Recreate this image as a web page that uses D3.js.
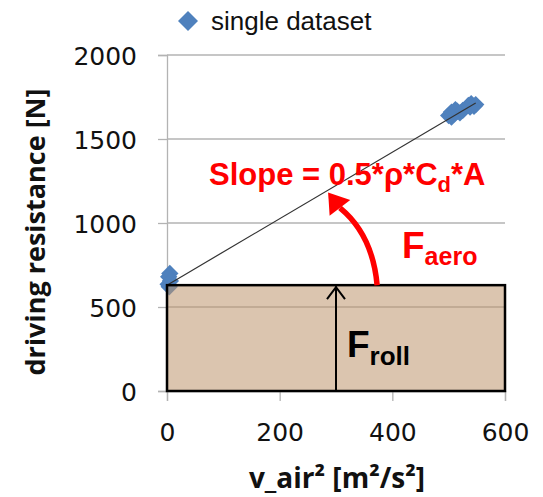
<!DOCTYPE html>
<html>
<head>
<meta charset="utf-8">
<script src="https://cdn.jsdelivr.net/npm/d3@7"></script>
<style>
  body { margin: 0; background: #fff; }
  svg { display: block; }
</style>
</head>
<body>
<svg id="chart" width="543" height="497"></svg>
<script>
// measured values
var vAir2 = [5, 3, 6, 2, 4, 500, 505, 510, 515, 520, 512, 525, 535, 540, 545, 538, 548, 505];
var resistance = [700, 680, 655, 635, 620, 1640, 1660, 1650, 1665, 1655, 1675, 1670, 1700, 1710, 1695, 1690, 1705, 1630];
var xTicks = [0, 200, 400, 600];
var yTicks = [0, 500, 1000, 1500, 2000];
var fitX = [0, 548];
var fitY = [630, 1714];
var rollForce = 630;
var rollArrowX = 300;

var svg = d3.select("#chart")
var x = d3.scaleLinear().domain([0, 600]).range([167, 505])
var y = d3.scaleLinear().domain([0, 2000]).range([391, 55])

var blue = "#4f81bd"
var grid = "#b3b3b3"

// gridlines
svg.append("g").selectAll("line").data(yTicks.slice(1)).join("line")
  .attr("x1", x(0)).attr("x2", x(600))
  .attr("y1", d => y(d)).attr("y2", d => y(d))
  .attr("stroke", grid).attr("stroke-width", 1.3)

// axes
var yAxis = svg.append("g").attr("transform", "translate(" + x(0) + ",0)")
  .call(d3.axisLeft(y).tickValues(yTicks).tickSize(9).tickPadding(21).tickFormat(d3.format("d")))
var xAxis = svg.append("g").attr("transform", "translate(0," + y(0) + ")")
  .call(d3.axisBottom(x).tickValues(xTicks).tickSize(10).tickPadding(22).tickFormat(d3.format("d")))
;[yAxis, xAxis].forEach(function(a){
  a.select(".domain").attr("stroke", grid).attr("stroke-width", 1.3)
  a.selectAll(".tick line").attr("stroke", grid).attr("stroke-width", 1.3)
  a.selectAll(".tick text").attr("fill", "#111").style("font-family", "DejaVu Sans").style("font-size", "25px")
})
yAxis.selectAll(".tick text").attr("dy", "0.36em")

// data points
var diamond = d3.symbol().type(d3.symbolSquare).size(150)
svg.append("g").selectAll("path").data(vAir2).join("path")
  .attr("d", diamond)
  .attr("transform", (d, i) => "translate(" + x(d) + "," + y(resistance[i]) + ") rotate(45)")
  .attr("fill", blue)

// trend line
svg.append("line")
  .attr("x1", x(fitX[0])).attr("y1", y(fitY[0]))
  .attr("x2", x(fitX[1])).attr("y2", y(fitY[1]))
  .attr("stroke", "#333").attr("stroke-width", 1.2)

// rolling resistance box
svg.append("rect")
  .attr("x", x(0)).attr("y", y(rollForce))
  .attr("width", x(600) - x(0)).attr("height", y(0) - y(rollForce))
  .attr("fill", "rgb(190,150,110)").attr("fill-opacity", 0.55)
  .attr("stroke", "#000").attr("stroke-width", 2.5)

// F_roll arrow
svg.append("line")
  .attr("x1", x(rollArrowX)).attr("x2", x(rollArrowX))
  .attr("y1", y(0)).attr("y2", y(rollForce) + 1)
  .attr("stroke", "#000").attr("stroke-width", 2)
svg.append("path")
  .attr("d", "M" + (x(rollArrowX) - 9) + "," + (y(rollForce) + 14) + " L" + x(rollArrowX) + "," + (y(rollForce) + 2) + " L" + (x(rollArrowX) + 9) + "," + (y(rollForce) + 14))
  .attr("fill", "none").attr("stroke", "#000").attr("stroke-width", 2)

// F_aero curved arrow
var aStart = [x(373), y(rollForce)]
var aCtrl = [x(365), y(930)]
var aEnd = [x(307), y(1090)]
var tip = [x(286), y(1182)]
svg.append("path")
  .attr("d", "M" + aStart + " Q" + aCtrl + " " + aEnd)
  .attr("fill", "none").attr("stroke", "red").attr("stroke-width", 5.5)
var dx = tip[0] - aEnd[0], dy = tip[1] - aEnd[1], len = Math.sqrt(dx * dx + dy * dy)
var nx = -dy / len, ny = dx / len, hw = 13
svg.append("path")
  .attr("d", "M" + tip + " L" + (aEnd[0] + nx * hw) + "," + (aEnd[1] + ny * hw) + " L" + (aEnd[0] - nx * hw) + "," + (aEnd[1] - ny * hw) + "Z")
  .attr("fill", "red")

// annotations
var slope = svg.append("text").attr("x", 209).attr("y", 185)
  .attr("fill", "red").style("font-family", "Liberation Sans, Arial").style("font-weight", "bold").style("font-size", "31px")
slope.append("tspan").text("Slope = 0.5*\u03c1*C")
slope.append("tspan").attr("dy", 7).style("font-size", "22px").text("d")
slope.append("tspan").attr("dy", -7).text("*A")

var faero = svg.append("text").attr("x", 402).attr("y", 258)
  .attr("fill", "red").style("font-family", "Liberation Sans, Arial").style("font-weight", "bold").style("font-size", "37px")
faero.append("tspan").text("F")
faero.append("tspan").attr("dy", 7).style("font-size", "25px").text("aero")

var froll = svg.append("text").attr("x", 347).attr("y", 357)
  .attr("fill", "#000").style("font-family", "Liberation Sans, Arial").style("font-weight", "bold").style("font-size", "37px")
froll.append("tspan").text("F")
froll.append("tspan").attr("dy", 8).style("font-size", "26px").text("roll")

// axis titles
svg.append("text")
  .attr("transform", "translate(45," + ((y(0) + y(2000)) / 2 + 9) + ") rotate(-90)")
  .attr("text-anchor", "middle").attr("fill", "#111")
  .style("font-family", "Open Sans").style("font-weight", "bold").style("font-size", "27px")
  .text("driving resistance [N]")
svg.append("text")
  .attr("x", 337).attr("y", 488).attr("text-anchor", "middle").attr("fill", "#111")
  .style("font-family", "Open Sans").style("font-weight", "bold").style("font-size", "28px")
  .text("v_air\u00b2 [m\u00b2/s\u00b2]")

// legend
svg.append("path").attr("d", diamond.size(200)).attr("transform", "translate(188,21) rotate(45)").attr("fill", blue)
svg.append("text").attr("x", 211).attr("y", 30)
  .attr("fill", "#111").style("font-family", "Liberation Sans, Arial").style("font-size", "26px")
  .text("single dataset")
</script>
</body>
</html>
